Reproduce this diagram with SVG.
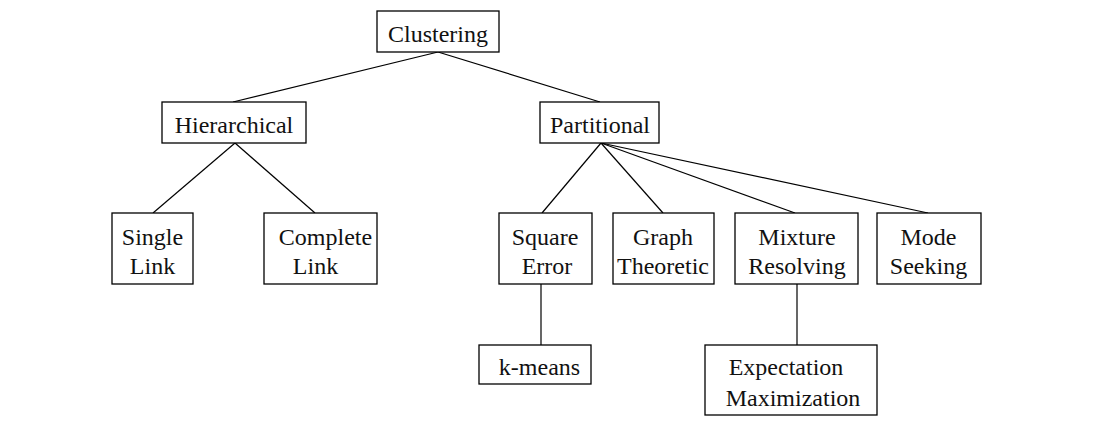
<svg xmlns="http://www.w3.org/2000/svg" width="1094" height="441" viewBox="0 0 1094 441" font-family="Liberation Serif, DejaVu Serif, serif">
<style>
rect{fill:#fff;stroke:#000;stroke-width:1.3}
text{font-size:24px;fill:#111;text-anchor:middle}
#connectors line{stroke:#000;stroke-width:1.2}
</style>
<rect x="0" y="0" width="1094" height="441" style="stroke:none"/>
<g id="connectors">
<line x1="438" y1="52" x2="233" y2="102"/>
<line x1="438" y1="52" x2="600" y2="102"/>
<line x1="235" y1="143" x2="153" y2="213"/>
<line x1="235" y1="143" x2="315" y2="213"/>
<line x1="601" y1="143" x2="542" y2="213"/>
<line x1="601" y1="143" x2="663" y2="213"/>
<line x1="601" y1="143" x2="795" y2="213"/>
<line x1="601" y1="143" x2="928" y2="213"/>
<line x1="541" y1="284" x2="541" y2="345"/>
<line x1="797" y1="284" x2="797" y2="345"/>
</g>
<g id="clustering"><rect x="377" y="11" width="122" height="41"/><text x="438" y="42" font-family="Liberation Serif">Clustering</text></g>
<g id="hierarchical"><rect x="162" y="102" width="144" height="41"/><text x="234" y="133">Hierarchical</text></g>
<g id="partitional"><rect x="540" y="102" width="119" height="41"/><text x="600" y="133">Partitional</text></g>
<g id="single-link"><rect x="112" y="213" width="81" height="71"/><text x="152.5" y="245">Single</text><text x="152.5" y="274">Link</text></g>
<g id="complete-link"><rect x="264" y="213" width="113" height="71"/><text x="325.5" y="245">Complete</text><text x="315.5" y="274">Link</text></g>
<g id="square-error"><rect x="499" y="213" width="93" height="71"/><text x="545" y="245">Square</text><text x="547" y="274">Error</text></g>
<g id="graph-theoretic"><rect x="613" y="213" width="101" height="71"/><text x="663" y="245">Graph</text><text x="663" y="274">Theoretic</text></g>
<g id="mixture-resolving"><rect x="735" y="213" width="123" height="71"/><text x="797" y="245">Mixture</text><text x="797" y="274">Resolving</text></g>
<g id="mode-seeking"><rect x="877" y="213" width="104" height="71"/><text x="928.5" y="245">Mode</text><text x="928.5" y="274">Seeking</text></g>
<g id="k-means"><rect x="479" y="345" width="112" height="39"/><text x="539.5" y="375">k-means</text></g>
<g id="expectation-maximization"><rect x="705" y="345" width="172" height="70"/><text x="786" y="375">Expectation</text><text x="793" y="406">Maximization</text></g>
</svg>
